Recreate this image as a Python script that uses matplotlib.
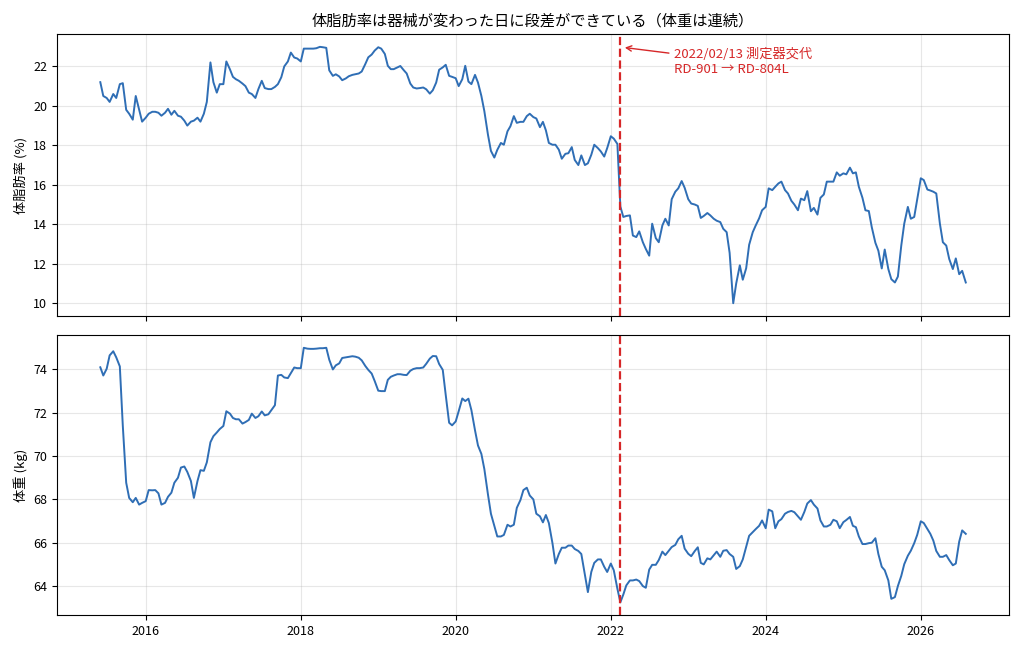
import matplotlib
matplotlib.use("Agg")
import matplotlib.pyplot as plt
import pandas as pd

plt.rcParams['font.family'] = ['Noto Sans CJK JP', 'DejaVu Sans']

# semi-monthly readings (1st and 15th), starting 2015-06-01
start_date = "2015-06-01"
change_date = "2022-02-13"

body_fat = [
    21.2, 20.5, 20.4, 20.2, 20.6, 20.4, 21.1, 21.15, 19.8, 19.6, 19.3, 20.5, 19.8, 19.2,
    19.4, 19.6, 19.7, 19.7, 19.65, 19.5, 19.65, 19.85, 19.55, 19.75,
    19.5, 19.45, 19.25, 19.0, 19.2, 19.25, 19.4, 19.2, 19.6, 20.2,
    22.2, 21.2, 20.67, 21.1, 21.1, 22.25, 21.85, 21.47, 21.35, 21.27,
    21.13, 21.0, 20.67, 20.6, 20.4, 20.85, 21.27, 20.9, 20.85, 20.85,
    20.96, 21.1, 21.45, 22.0, 22.25, 22.7, 22.45, 22.4, 22.25, 22.9,
    22.9, 22.9, 22.9, 22.92,
    22.99, 22.97, 22.94, 21.8, 21.52, 21.6, 21.49, 21.3, 21.39, 21.5,
    21.57, 21.6, 21.64, 21.74, 22.12, 22.46, 22.6, 22.8, 22.97, 22.9,
    22.63, 22.03, 21.86, 21.86, 21.95, 22.02, 21.81, 21.64, 21.13, 20.93,
    20.88, 20.9, 20.93, 20.84, 20.62, 20.79, 21.18, 21.83, 21.95, 22.08,
    21.52, 21.47, 21.4, 21.0, 21.35, 22.03, 21.23, 21.1, 21.57, 21.18,
    20.5, 19.73, 18.54, 17.72, 17.38, 17.77, 18.12, 18.03, 18.71, 18.97,
    19.48, 19.14, 19.19, 19.19, 19.48, 19.6, 19.43, 19.36,
    18.92, 19.19, 18.76, 18.12, 18.03, 18.03, 17.78, 17.32, 17.57, 17.6,
    17.91, 17.26, 17.0, 17.49, 17.0, 17.09, 17.52, 18.03, 17.86, 17.69,
    17.43, 17.86, 18.46, 18.34, 18.07, 14.9, 14.37, 14.42, 14.45, 13.43,
    13.35, 13.64, 13.09, 12.75, 12.41, 14.03, 13.3, 13.09, 13.94, 14.28,
    13.94, 15.27, 15.65, 15.82, 16.19, 15.85, 15.27, 15.05, 15.0, 14.93,
    14.32, 14.42, 14.57, 14.45, 14.28, 14.18, 14.11, 13.77, 13.6, 12.55,
    10.0, 11.0, 11.92, 11.19, 11.77, 12.96, 13.6, 13.94,
    14.3, 14.71, 14.88, 15.82, 15.73, 15.9, 16.07, 16.16, 15.73, 15.56,
    15.19, 15.0, 14.71, 15.3, 15.22, 15.68, 14.66, 14.83, 14.49, 15.34,
    15.51, 16.16, 16.16, 16.16, 16.63, 16.46, 16.58, 16.53, 16.87, 16.58,
    16.63, 15.9, 15.34, 14.71, 14.67, 13.85, 13.06, 12.66, 11.76, 12.72,
    11.73, 11.22, 11.05, 11.35, 12.92, 14.03, 14.88, 14.28, 14.37, 15.27,
    16.33, 16.24, 15.76, 15.71, 15.65, 15.56, 14.03, 13.09, 12.92, 12.24,
    11.73, 12.27, 11.47, 11.64, 11.05,
]

weight = [
    74.1, 73.72, 74.03, 74.65, 74.84, 74.56, 74.14, 71.4, 68.77, 68.07,
    67.87, 68.07, 67.76, 67.84, 67.92, 68.43, 68.42, 68.43, 68.28, 67.76,
    67.84, 68.12, 68.31, 68.77, 69.0, 69.47, 69.52, 69.27, 68.85, 68.07,
    68.85, 69.35, 69.32, 69.71, 70.64, 70.92, 71.09, 71.25, 71.39, 72.07,
    71.96, 71.76, 71.7, 71.7, 71.5, 71.57, 71.67, 71.96, 71.76, 71.84,
    72.06, 71.88, 71.93, 72.12, 72.35, 73.72, 73.75, 73.63, 73.6, 73.83,
    74.09, 74.06, 74.06, 75.0, 74.96, 74.95, 74.95, 74.96,
    74.98, 74.98, 75.0, 74.45, 74.0, 74.19, 74.28, 74.53, 74.56, 74.58,
    74.61, 74.59, 74.54, 74.42, 74.16, 73.98, 73.81, 73.47, 73.02, 73.0,
    73.0, 73.52, 73.66, 73.72, 73.78, 73.78, 73.75, 73.74, 73.94, 74.02,
    74.06, 74.06, 74.09, 74.26, 74.5, 74.62, 74.61, 74.25, 73.98, 72.82,
    71.54, 71.42, 71.6, 72.07, 72.66, 72.54, 72.65, 72.12, 71.19, 70.49,
    70.1, 69.4, 68.23, 67.34, 66.78, 66.29, 66.29, 66.36, 66.83, 66.75,
    66.83, 67.61, 67.97, 68.43, 68.54, 68.18, 68.0, 67.34,
    67.22, 66.94, 67.28, 66.91, 65.98, 65.04, 65.48, 65.77, 65.77, 65.87,
    65.87, 65.71, 65.62, 65.48, 64.5, 63.72, 64.65, 65.07, 65.23, 65.23,
    64.89, 64.65, 65.04, 64.73, 63.88, 63.25, 63.61, 64.03, 64.26, 64.26,
    64.3, 64.23, 64.0, 63.92, 64.76, 64.98, 64.98, 65.2, 65.59, 65.43,
    65.63, 65.8, 65.9, 66.16, 66.32, 65.73, 65.49, 65.38, 65.62, 65.79,
    65.07, 65.0, 65.28, 65.23, 65.42, 65.59, 65.35, 65.63, 65.66, 65.48,
    65.35, 64.79, 64.92, 65.23, 65.82, 66.32, 66.49, 66.63,
    66.78, 67.03, 66.67, 67.53, 67.45, 66.67, 66.99, 67.09, 67.34, 67.42,
    67.47, 67.41, 67.22, 67.06, 67.42, 67.81, 67.97, 67.76, 67.58, 67.03,
    66.75, 66.75, 66.83, 67.06, 66.99, 66.67, 66.95, 67.05, 67.19, 66.78,
    66.72, 66.29, 65.94, 65.94, 65.98, 66.0, 66.21, 65.48, 64.89, 64.73,
    64.26, 63.41, 63.49, 64.0, 64.47, 65.01, 65.4, 65.63, 65.98, 66.36,
    66.99, 66.91, 66.64, 66.41, 66.1, 65.62, 65.35, 65.35, 65.43, 65.2,
    64.96, 65.04, 66.05, 66.57, 66.41,
]

title = "体脂肪率は器械が変わった日に段差ができている（体重は連続）"
note = "2022/02/13 測定器交代\nRD-901 → RD-804L"

line_color = "#2f6eb5"
red = "#d62728"

fat_dates = pd.date_range(start_date, periods=len(body_fat), freq="SMS")
weight_dates = pd.date_range(start_date, periods=len(weight), freq="SMS")
change = pd.Timestamp(change_date)

fig = plt.figure(figsize=(10.24, 6.52), dpi=100)
ax1 = fig.add_axes([0.0557, 0.5153, 0.9297, 0.4325])
ax2 = fig.add_axes([0.0557, 0.0567, 0.9297, 0.4294], sharex=ax1)

# top: body fat
ax1.plot(fat_dates, body_fat, color=line_color, linewidth=1.4)
ax1.axvline(change, color=red, linestyle="--", linewidth=1.6)
ax1.set_ylabel("体脂肪率 (%)", fontsize=9.5)
ax1.set_title(title, fontsize=11)
ax1.grid(True, alpha=0.3)
ax1.tick_params(labelsize=9, labelbottom=False)
ax1.annotate(note, xy=(change + pd.Timedelta(days=10), 22.97),
             xytext=(pd.Timestamp("2022-10-28"), 22.2),
             color=red, fontsize=9.5, ha="left", va="center",
             arrowprops=dict(arrowstyle="->", color=red, lw=1.0))

# bottom: weight
ax2.plot(weight_dates, weight, color=line_color, linewidth=1.4)
ax2.axvline(change, color=red, linestyle="--", linewidth=1.6)
ax2.set_ylabel("体重 (kg)", fontsize=9.5)
ax2.grid(True, alpha=0.3)
ax2.tick_params(labelsize=9)

fig.savefig("out.png", dpi=100)
